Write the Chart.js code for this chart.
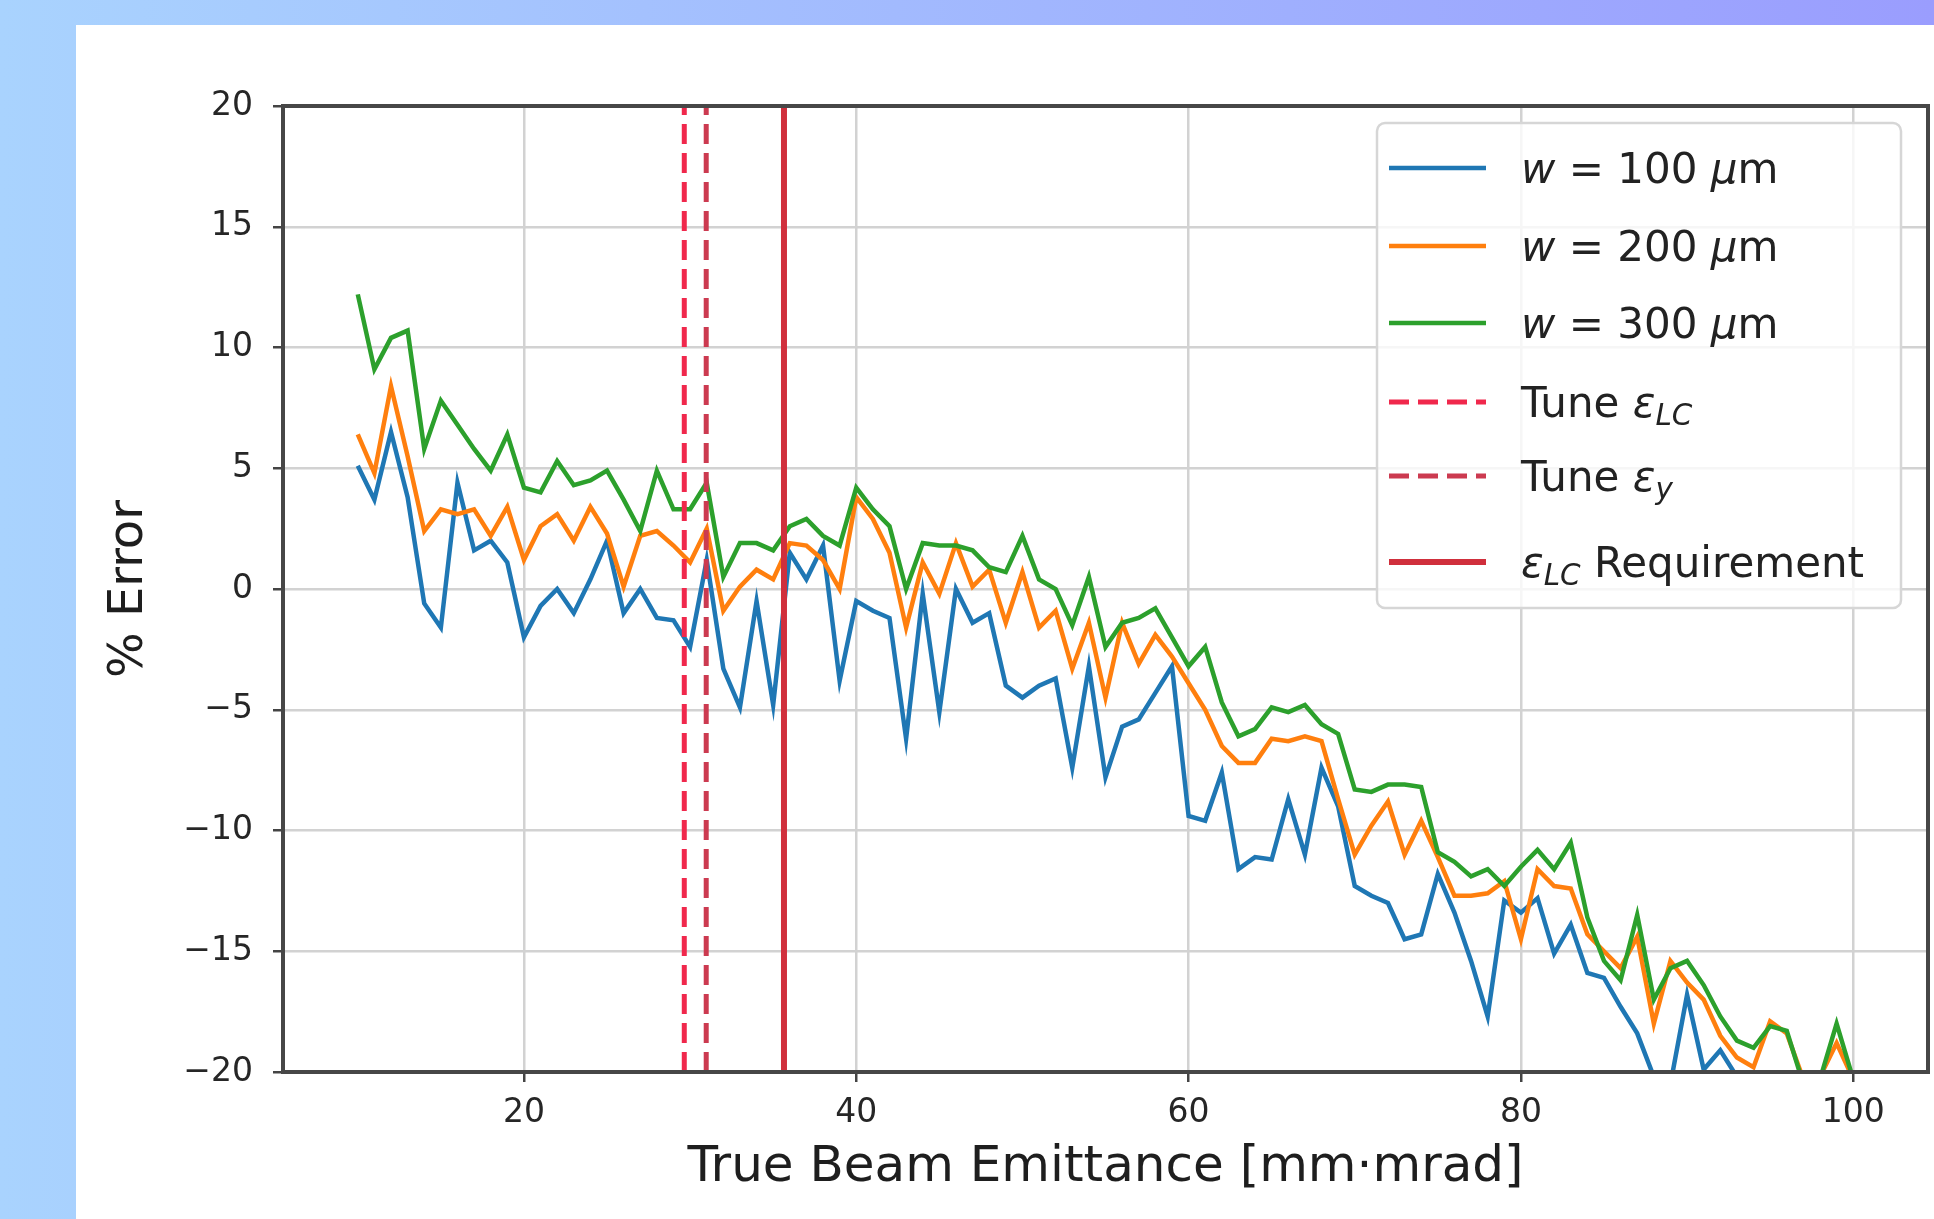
<!DOCTYPE html>
<html>
<head>
<meta charset="utf-8">
<script src="https://cdn.jsdelivr.net/npm/chart.js@4.4.1/dist/chart.umd.min.js"></script>
<style>
  html, body { margin: 0; padding: 0; }
  body {
    width: 1934px; height: 1219px; overflow: hidden; position: relative;
    background: linear-gradient(to right, #a9d3fe, #9a9dfe);
  }
  #panel { position: absolute; left: 76px; top: 25px; width: 1858px; height: 1194px; background: #fff; }
  canvas { display: block; }
</style>
</head>
<body>
<div id="panel"><canvas id="errChart" width="1858" height="1194"></canvas></div>
<script>
// true beam emittance [mm·mrad]
const emittance = [
  10, 11, 12, 13, 14, 15, 16, 17, 18, 19,
  20, 21, 22, 23, 24, 25, 26, 27, 28, 29,
  30, 31, 32, 33, 34, 35, 36, 37, 38, 39,
  40, 41, 42, 43, 44, 45, 46, 47, 48, 49,
  50, 51, 52, 53, 54, 55, 56, 57, 58, 59,
  60, 61, 62, 63, 64, 65, 66, 67, 68, 69,
  70, 71, 72, 73, 74, 75, 76, 77, 78, 79,
  80, 81, 82, 83, 84, 85, 86, 87, 88, 89,
  90, 91, 92, 93, 94, 95, 96, 97, 98, 99,
  100
];

// % error for each slit width
const err100 = [
  5.1, 3.7, 6.5, 3.8, -0.6, -1.6, 4.4, 1.6, 2.0, 1.1,
  -2.0, -0.7, 0.0, -1.0, 0.4, 2.0, -1.0, 0.0, -1.2, -1.3,
  -2.4, 1.2, -3.3, -4.9, -0.5, -4.8, 1.5, 0.4, 1.8, -3.8,
  -0.5, -0.9, -1.2, -6.2, -0.2, -5.1, 0.0, -1.4, -1.0, -4.0,
  -4.5, -4.0, -3.7, -7.4, -3.2, -7.8, -5.7, -5.4, -4.3, -3.2,
  -9.4, -9.6, -7.6, -11.6, -11.1, -11.2, -8.7, -11.0, -7.4, -9.0,
  -12.3, -12.7, -13.0, -14.5, -14.3, -11.8, -13.4, -15.4, -17.7, -12.9,
  -13.4, -12.8, -15.1, -13.9, -15.9, -16.1, -17.3, -18.4, -20.2, -20.5,
  -16.8, -19.9, -19.1, -20.2, -20.8, -21.0, -21.5, -22.0, -22.0, -22.5,
  -23.0
];
const err200 = [
  6.4, 4.8, 8.4, 5.5, 2.4, 3.3, 3.1, 3.3, 2.2, 3.4,
  1.2, 2.6, 3.1, 2.0, 3.4, 2.3, 0.1, 2.2, 2.4, 1.8,
  1.1, 2.5, -0.9, 0.1, 0.8, 0.4, 1.9, 1.8, 1.2, 0.0,
  3.8, 2.9, 1.5, -1.6, 1.1, -0.2, 1.9, 0.1, 0.8, -1.4,
  0.7, -1.6, -0.9, -3.3, -1.4, -4.5, -1.4, -3.1, -1.9, -2.8,
  -3.9, -5.0, -6.5, -7.2, -7.2, -6.2, -6.3, -6.1, -6.3, -8.7,
  -11.0, -9.8, -8.8, -11.0, -9.6, -11.1, -12.7, -12.7, -12.6, -12.1,
  -14.5, -11.6, -12.3, -12.4, -14.3, -15.0, -15.7, -14.4, -18.0, -15.4,
  -16.3, -17.0, -18.5, -19.4, -19.8, -17.9, -18.4, -20.3, -20.2, -18.8,
  -20.3
];
const err300 = [
  12.2, 9.1, 10.4, 10.7, 5.8, 7.8, 6.8, 5.8, 4.9, 6.4,
  4.2, 4.0, 5.3, 4.3, 4.5, 4.9, 3.7, 2.4, 4.9, 3.3,
  3.3, 4.4, 0.5, 1.9, 1.9, 1.6, 2.6, 2.9, 2.2, 1.8,
  4.2, 3.3, 2.6, 0.0, 1.9, 1.8, 1.8, 1.6, 0.9, 0.7,
  2.2, 0.4, 0.0, -1.5, 0.5, -2.4, -1.4, -1.2, -0.8, -2.0,
  -3.2, -2.4, -4.7, -6.1, -5.8, -4.9, -5.1, -4.8, -5.6, -6.0,
  -8.3, -8.4, -8.1, -8.1, -8.2, -10.9, -11.3, -11.9, -11.6, -12.3,
  -11.5, -10.8, -11.6, -10.5, -13.6, -15.4, -16.2, -13.5, -17.0, -15.7,
  -15.4, -16.4, -17.7, -18.7, -19.0, -18.1, -18.3, -20.5, -20.3, -18.0,
  -20.3
];

// vertical markers
const tuneLC = 29.65;
const tuneY = 30.97;
const lcRequirement = 35.65;

const xTicks = [20, 40, 60, 80, 100];
const yTicks = [-20, -15, -10, -5, 0, 5, 10, 15, 20];
const xRange = [5.5, 104.5];
const yRange = [-20, 20];

const FONT = '"DejaVu Sans", "Liberation Sans", sans-serif';

const pts = (ys) => emittance.map((x, i) => ({ x: x, y: ys[i] }));
const vline = (x) => [{ x: x, y: yRange[0] }, { x: x, y: yRange[1] }];

// legend text pieces: [text, style] ('' normal, 'i' italic, 's' italic subscript)
const datasets = [
  { data: pts(err100), borderColor: '#1f77b4', borderWidth: 4.5, order: 5,
    rich: [['w', 'i'], [' = 100 ', ''], ['μ', 'i'], ['m', '']] },
  { data: pts(err200), borderColor: '#ff7f0e', borderWidth: 4.5, order: 4,
    rich: [['w', 'i'], [' = 200 ', ''], ['μ', 'i'], ['m', '']] },
  { data: pts(err300), borderColor: '#2ca02c', borderWidth: 4.5, order: 3,
    rich: [['w', 'i'], [' = 300 ', ''], ['μ', 'i'], ['m', '']] },
  { data: vline(tuneLC), borderColor: '#f0284c', borderWidth: 5, borderDash: [20, 9], order: 2,
    rich: [['Tune ', ''], ['ε', 'i'], ['LC', 's']] },
  { data: vline(tuneY), borderColor: '#cc3a50', borderWidth: 5, borderDash: [20, 9], order: 1,
    rich: [['Tune ', ''], ['ε', 'i'], ['y', 's']] },
  { data: vline(lcRequirement), borderColor: '#d02f3c', borderWidth: 6, order: 0,
    rich: [['ε', 'i'], ['LC', 's'], [' Requirement', '']] }
];
datasets.forEach(d => { d.pointRadius = 0; d.fill = false; d.tension = 0; d.clip = 0; });

function drawRich(ctx, parts, x, y, size) {
  let cx = x;
  parts.forEach(([txt, st]) => {
    const sub = st === 's';
    const fs = sub ? size * 0.7 : size;
    ctx.font = (st ? 'italic ' : '') + fs + 'px ' + FONT;
    ctx.fillText(txt, cx, sub ? y + size * 0.2 : y);
    cx += ctx.measureText(txt).width;
  });
}

// spines all round, like matplotlib
const framePlugin = {
  id: 'frame',
  afterDatasetsDraw(chart) {
    const { ctx, chartArea: a } = chart;
    ctx.save();
    ctx.strokeStyle = '#474747';
    ctx.lineWidth = 4;
    ctx.strokeRect(a.left, a.top, a.right - a.left, a.bottom - a.top);
    ctx.restore();
  }
};

// legend box inside the upper right corner
const legendPlugin = {
  id: 'boxLegend',
  afterDraw(chart) {
    const { ctx, chartArea: a } = chart;
    const boxW = 524, boxH = 485;
    const bx = a.right - 27 - boxW, by = a.top + 17;
    const rows = [62, 140, 217, 296, 370, 456];
    ctx.save();
    ctx.beginPath();
    ctx.roundRect(bx, by, boxW, boxH, 8);
    ctx.fillStyle = 'rgba(255,255,255,0.8)';
    ctx.fill();
    ctx.strokeStyle = '#d6d6d6';
    ctx.lineWidth = 2.5;
    ctx.stroke();
    chart.data.datasets.forEach((d, i) => {
      const cy = a.top + rows[i];
      ctx.beginPath();
      ctx.setLineDash(d.borderDash || []);
      ctx.strokeStyle = d.borderColor;
      ctx.lineWidth = d.borderWidth;
      ctx.moveTo(bx + 12, cy);
      ctx.lineTo(bx + 109, cy);
      ctx.stroke();
      ctx.setLineDash([]);
      ctx.fillStyle = '#222';
      ctx.textBaseline = 'alphabetic';
      drawRich(ctx, d.rich, bx + 144, cy + 15, 42);
    });
    ctx.restore();
  }
};

new Chart(document.getElementById('errChart'), {
  type: 'line',
  data: { datasets: datasets },
  options: {
    responsive: false,
    animation: false,
    devicePixelRatio: 1,
    layout: { padding: { top: 81, right: 6, bottom: 0, left: 0 } },
    plugins: { legend: { display: false }, tooltip: { enabled: false } },
    scales: {
      x: {
        type: 'linear',
        min: xRange[0], max: xRange[1],
        afterBuildTicks: (s) => { s.ticks = xTicks.map(v => ({ value: v })); },
        afterFit: (s) => { s.height = 147; },
        border: { display: false },
        grid: { color: '#d2d2d2', lineWidth: 2.5, tickLength: 10, tickColor: '#444', tickWidth: 2.5 },
        ticks: { autoSkip: false, maxRotation: 0, padding: 12, color: '#262626', font: { family: FONT, size: 33 } },
        title: { display: true, text: 'True Beam Emittance [mm·mrad]', color: '#1e1e1e',
                 font: { family: FONT, size: 50 }, padding: { top: 0, bottom: 21 } }
      },
      y: {
        min: yRange[0], max: yRange[1],
        afterBuildTicks: (s) => { s.ticks = yTicks.map(v => ({ value: v })); },
        afterFit: (s) => { s.width = 207; },
        border: { display: false },
        grid: { color: '#d2d2d2', lineWidth: 2.5, tickLength: 10, tickColor: '#444', tickWidth: 2.5 },
        ticks: { padding: 20, color: '#262626', font: { family: FONT, size: 33 },
                 callback: (v) => String(v).replace('-', '\u2212') },
        title: { display: true, text: '% Error', color: '#1e1e1e',
                 font: { family: FONT, size: 48 }, padding: { top: 25, bottom: 0 } }
      }
    }
  },
  plugins: [framePlugin, legendPlugin]
});
</script>
</body>
</html>
